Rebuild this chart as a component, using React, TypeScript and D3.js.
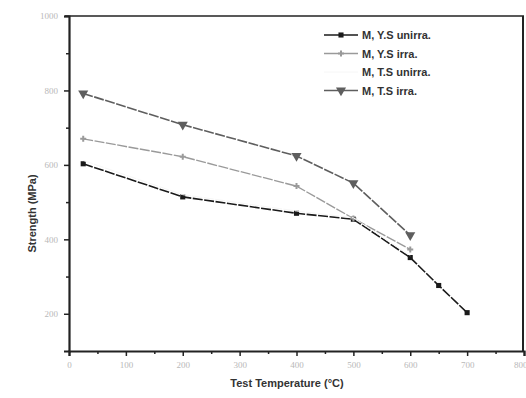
import { useRef, useEffect } from "react";
import * as d3 from "d3";

const temps = [25, 200, 400, 500, 600, 650, 700];
const ysUnirra = [603, 514, 470, 454, 351, 276, 203];
const tempsIrra = [25, 200, 400, 500, 600];
const ysIrra = [670, 622, 543, 456, 373];
const tsUnirra = [612, 520, 476, 458, 356];
const tsIrra = [792, 708, 624, 551, 411];

const seriesNames = ["M, Y.S unirra.", "M, Y.S irra.", "M, T.S unirra.", "M, T.S irra."];
const xTicks = [0, 100, 200, 300, 400, 500, 600, 700, 800];
const yTicks = [200, 400, 600, 800, 1000];

export default function App() {
  const svgRef = useRef<SVGSVGElement>(null);

  useEffect(() => {
    if (!svgRef.current) return;
    const svg = d3.select(svgRef.current);
    svg.selectAll("*").remove();
    const W = 526, H = 398;
    const m = { l: 69, r: 2, t: 16, b: 47 };
    const x = d3.scaleLinear().domain([0, 800]).range([m.l, W - m.r]);
    const y = d3.scaleLinear().domain([100, 1000]).range([H - m.b, m.t]);

    svg.append("rect").attr("width", W).attr("height", H).attr("fill", "#fff");

    // frame
    svg.append("line").attr("x1", x(0) - 4).attr("x2", x(800)).attr("y1", y(1000)).attr("y2", y(1000))
      .attr("stroke", "#222").attr("stroke-width", 1.5);
    svg.append("line").attr("x1", x(800) - 1).attr("x2", x(800) - 1).attr("y1", y(1000)).attr("y2", y(100))
      .attr("stroke", "#222").attr("stroke-width", 2);

    const xAxis = svg.append("g").attr("transform", `translate(0,${y(100)})`)
      .call(d3.axisBottom(x).tickValues(xTicks).tickSize(5).tickPadding(6).tickFormat(d3.format("d")));
    svg.append("g").attr("transform", `translate(0,${y(100)})`)
      .call(d3.axisBottom(x).tickValues(d3.range(50, 800, 100)).tickSize(3).tickFormat(() => ""))
      .select(".domain").remove();
    const yAxis = svg.append("g").attr("transform", `translate(${x(0)},0)`)
      .call(d3.axisLeft(y).tickValues(yTicks).tickSize(5).tickPadding(6).tickFormat(d3.format("d")));
    svg.append("g").attr("transform", `translate(${x(0)},0)`)
      .call(d3.axisLeft(y).tickValues([300, 500, 700, 900]).tickSize(3).tickFormat(() => ""))
      .select(".domain").remove();

    svg.selectAll(".domain").attr("stroke", "#222").attr("stroke-width", 2.2);
    svg.selectAll(".tick line").attr("stroke", "#222").attr("stroke-width", 1.5);
    [xAxis, yAxis].forEach(g => g.selectAll("text").attr("fill", "#b8b8b8")
      .style("font-family", "Liberation Serif, serif").style("font-size", "9px"));
    xAxis.selectAll<SVGTextElement, number>("text").filter(d => d === 800).attr("text-anchor", "end").attr("dx", 3);

    const sq = d3.symbol().type(d3.symbolSquare).size(26);
    const star = d3.symbol().type(d3.symbolCross).size(20);
    const tri = d3.symbol().type(d3.symbolTriangle).size(44);

    const series = [
      { xs: temps, ys: ysUnirra, color: "#1a1a1a", sym: sq, rot: 0, w: 1.6 },
      { xs: tempsIrra, ys: ysIrra, color: "#9a9a9a", sym: star, rot: 0, w: 1.4 },
      { xs: tempsIrra, ys: tsUnirra, color: "#f6f6f6", sym: null, rot: 0, w: 1 },
      { xs: tempsIrra, ys: tsIrra, color: "#5e5e5e", sym: tri, rot: 180, w: 1.6 },
    ];

    const line = d3.line<[number, number]>().x(d => x(d[0])).y(d => y(d[1]));
    series.forEach(s => {
      const pts = s.xs.map((t, i) => [t, s.ys[i]] as [number, number]);
      svg.append("path").datum(pts).attr("fill", "none").attr("stroke", s.color)
        .attr("stroke-width", s.w).attr("stroke-dasharray", "10 1.5").attr("d", line);
      if (s.sym) {
        svg.selectAll(null).data(pts).enter().append("path")
          .attr("d", s.sym).attr("fill", s.color)
          .attr("transform", d => `translate(${x(d[0])},${y(d[1])}) rotate(${s.rot})`);
      }
    });

    // legend
    const lg = svg.append("g").attr("transform", "translate(324,35)");
    series.forEach((s, i) => {
      const g = lg.append("g").attr("transform", `translate(0,${i * 18.5})`);
      g.append("line").attr("x1", 0).attr("x2", 34).attr("stroke", s.color).attr("stroke-width", s.w);
      if (s.sym) g.append("path").attr("d", s.sym).attr("fill", s.color)
        .attr("transform", `translate(17,0) rotate(${s.rot})`);
      g.append("text").attr("x", 38).attr("y", 4).text(seriesNames[i])
        .style("font-family", "Liberation Sans, Arial, sans-serif").style("font-size", "11px")
        .style("font-weight", "bold").attr("fill", "#333");
    });

    svg.append("text").attr("transform", `translate(36,${(y(100) + y(1000)) / 2 + 30}) rotate(-90)`)
      .attr("text-anchor", "middle").text("Strength (MPa)")
      .style("font-family", "Liberation Sans, Arial, sans-serif").style("font-size", "11px")
      .style("font-weight", "bold").attr("fill", "#333");
    svg.append("text").attr("x", 287).attr("y", 387).attr("text-anchor", "middle")
      .text("Test Temperature (°C)")
      .style("font-family", "Liberation Sans, Arial, sans-serif").style("font-size", "11px")
      .style("font-weight", "bold").attr("fill", "#333");
  }, []);

  return <svg ref={svgRef} width={526} height={398} style={{ position: "absolute", left: 0, top: 0 }} />;
}
